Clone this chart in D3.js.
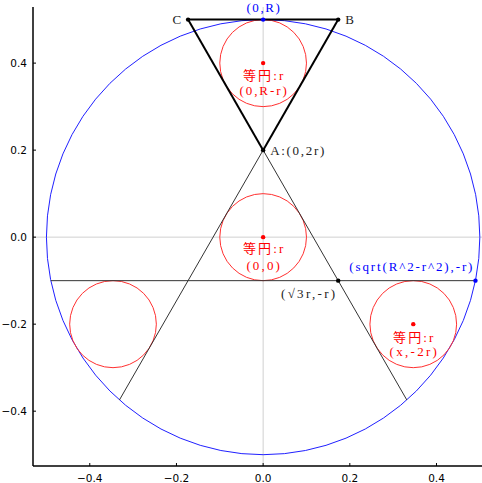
<!DOCTYPE html>
<html><head><meta charset="utf-8">
<script src="https://cdn.jsdelivr.net/npm/d3@7"></script>
<style>body{margin:0;background:#fff}svg{display:block}</style>
</head><body>
<script>
// ---- data ----
const xTicks = [-0.4, -0.2, 0.0, 0.2, 0.4];
const yTicks = [-0.4, -0.2, 0.0, 0.2, 0.4];
const bigCircle = {cx: 0, cy: 0, r: 0.5};
const smallCircles = [[0, 0.4], [0, 0], [0.3464, -0.2], [-0.3464, -0.2]];
const smallR = 0.1;
const thickLines = [[[-0.1732, 0.5], [0.1732, 0.5]], [[-0.1732, 0.5], [0, 0.2]], [[0.1732, 0.5], [0, 0.2]]];
const thinLines = [[[0, 0.2], [-0.3316, -0.3743]], [[0, 0.2], [0.3316, -0.3743]], [[-0.4899, -0.1], [0.4899, -0.1]]];
const blackPts = [[-0.1732, 0.5], [0.1732, 0.5], [0, 0.2], [0.1732, -0.1]];
const bluePts = [[0, 0.5], [0.4899, -0.1]];
const redPts = [[0, 0.4], [0, 0], [0.3464, -0.2]];
// labels: [x, y, text, color, anchor, dxPx, dyPx]
const labels = [
  [0, 0.5, "(0,R)", "blue", "middle", 0, -12],
  [-0.1732, 0.5, "C", "#222", "end", -7, 0],
  [0.1732, 0.5, "B", "#222", "start", 7, 0],
  [0, 0.4, "等円:r", "red", "middle", 0, 12],
  [0, 0.4, "(0,R-r)", "red", "middle", 0, 27],
  [0, 0.2, "A:(0,2r)", "#222", "start", 7, 0],
  [0, 0, "等円:r", "red", "middle", 0, 11],
  [0, 0, "(0,0)", "red", "middle", 0, 28],
  [0.1732, -0.1, "(√3r,-r)", "#222", "end", -3, 13],
  [0.4899, -0.1, "(sqrt(R^2-r^2),-r)", "blue", "end", -3, -14],
  [0.3464, -0.2, "等円:r", "red", "middle", 0, 13],
  [0.3464, -0.2, "(x,-2r)", "red", "middle", 0, 27]
];

// ---- drawing ----
const W = 482, H = 483;
const L = 33, Rt = 482, T = 7, B = 466;
const x = d3.scaleLinear().domain([-0.531, 0.505]).range([L, Rt]);
const y = d3.scaleLinear().domain([-0.526, 0.529]).range([B, T]);
const svg = d3.select("body").append("svg").attr("width", W).attr("height", H);

svg.append("defs").append("clipPath").attr("id", "clip")
  .append("rect").attr("x", L).attr("y", T).attr("width", Rt - L).attr("height", B - T);

const g = svg.append("g").attr("clip-path", "url(#clip)");
// zero lines
g.append("line").attr("x1", x(0)).attr("x2", x(0)).attr("y1", T).attr("y2", B)
  .attr("stroke", "#d0d0d0").attr("stroke-width", 1);
g.append("line").attr("x1", L).attr("x2", Rt).attr("y1", y(0)).attr("y2", y(0))
  .attr("stroke", "#d0d0d0").attr("stroke-width", 1);

const k = x(1) - x(0), ky = y(0) - y(1);
g.append("ellipse").attr("cx", x(bigCircle.cx)).attr("cy", y(bigCircle.cy))
  .attr("rx", bigCircle.r * k).attr("ry", bigCircle.r * ky)
  .attr("fill", "none").attr("stroke", "#2020ff").attr("stroke-width", 1);

g.selectAll(".sc").data(smallCircles).enter().append("ellipse")
  .attr("cx", d => x(d[0])).attr("cy", d => y(d[1]))
  .attr("rx", smallR * k).attr("ry", smallR * ky)
  .attr("fill", "none").attr("stroke", "#ff3030").attr("stroke-width", 1);

const line = d3.line().x(d => x(d[0])).y(d => y(d[1]));
g.selectAll(".tl").data(thinLines).enter().append("path")
  .attr("d", line).attr("fill", "none").attr("stroke", "#333").attr("stroke-width", 1);
g.selectAll(".kl").data(thickLines).enter().append("path")
  .attr("d", line).attr("fill", "none").attr("stroke", "#000").attr("stroke-width", 2);

const dots = (arr, col) => g.selectAll(null).data(arr).enter().append("circle")
  .attr("cx", d => x(d[0])).attr("cy", d => y(d[1])).attr("r", 2.2).attr("fill", col);
dots(blackPts, "#000"); dots(bluePts, "blue"); dots(redPts, "red");

// monospace-like width: half-width char = 6.9px, full-width = 13.8px
const textW = s => Array.from(s).reduce((a, c) => a + (c.charCodeAt(0) > 0x2fff ? 2 : 1), 0) * 6.9 - 1;
svg.selectAll(".lab").data(labels).enter().append("text")
  .attr("x", d => x(d[0]) + d[5]).attr("y", d => y(d[1]) + d[6])
  .attr("dy", "0.35em").attr("text-anchor", d => d[4]).attr("fill", d => d[3])
  .attr("textLength", d => d[2].length > 1 ? textW(d[2]) : null)
  .attr("lengthAdjust", "spacing")
  .style("font-family", "'Liberation Serif','Noto Sans CJK JP',serif").style("font-size", "13px")
  .text(d => d[2]);

// axes
const ax = svg.append("g").style("font-family", "'DejaVu Sans',sans-serif").style("font-size", "10.5px");
ax.append("line").attr("x1", L).attr("x2", L).attr("y1", T).attr("y2", B).attr("stroke", "#000").attr("stroke-width", 1.5);
ax.append("line").attr("x1", L).attr("x2", Rt).attr("y1", B).attr("y2", B).attr("stroke", "#000").attr("stroke-width", 1.5);
const fmt = v => (v < 0 ? "\u2212" : "") + Math.abs(v).toFixed(1);
xTicks.forEach(v => {
  ax.append("line").attr("x1", x(v)).attr("x2", x(v)).attr("y1", B).attr("y2", B - 3).attr("stroke", "#000");
  ax.append("text").attr("x", x(v)).attr("y", B + 12).attr("dy", "0.35em").attr("text-anchor", "middle").text(fmt(v));
});
yTicks.forEach(v => {
  ax.append("line").attr("x1", L).attr("x2", L + 3).attr("y1", y(v)).attr("y2", y(v)).attr("stroke", "#000");
  ax.append("text").attr("x", L - 6).attr("y", y(v)).attr("dy", "0.35em").attr("text-anchor", "end").text(fmt(v));
});
</script>
</body></html>
